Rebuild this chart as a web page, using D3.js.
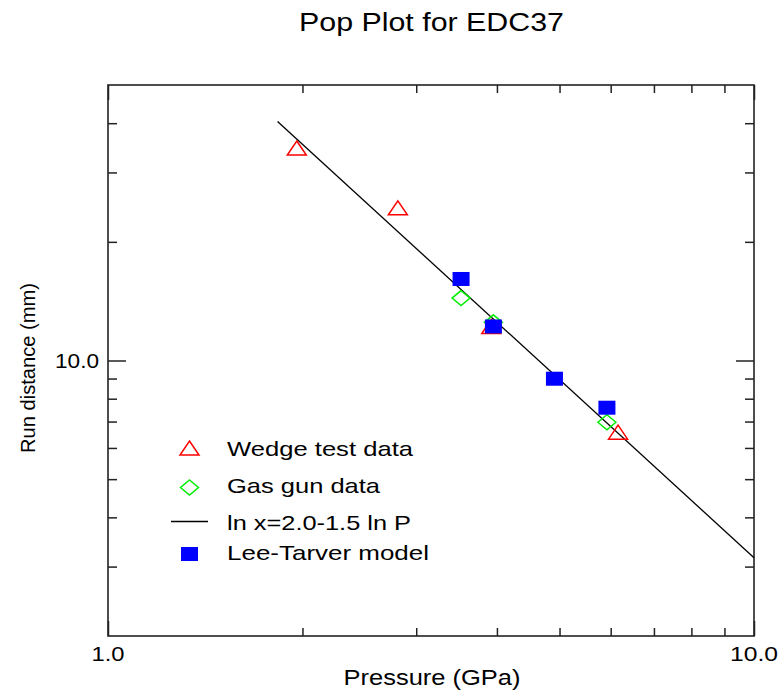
<!DOCTYPE html>
<html>
<head>
<meta charset="utf-8">
<script src="https://cdn.jsdelivr.net/npm/d3@7"></script>
<style>
  html, body { margin: 0; padding: 0; background: #fff; }
  svg { display: block; }
  text { font-family: "Liberation Sans", Arial, Helvetica, sans-serif; fill: #000; }
</style>
</head>
<body>
<svg id="chart" width="784" height="693"></svg>
<script>
// Pop plot: run distance to detonation versus input pressure (log-log)
const wedgeP   = [1.96, 2.81, 3.92, 6.16];
const wedgeRun = [34.6, 24.4, 12.2, 6.58];

const gasP   = [3.52, 3.95, 5.92];
const gasRun = [14.4, 12.5, 6.97];

const ltP   = [3.52, 3.95, 4.91, 5.92];
const ltRun = [16.1, 12.2, 8.99, 7.59];

// straight fit line in log-log space (end points)
const fitP   = [1.83, 10.0];
const fitRun = [40.4, 3.16];

const xDomain = [1, 10];
const yDomain = [2, 50];
const xMajor = [1, 10];
const xMinor = [2, 3, 4, 5, 6, 7, 8, 9];
const yMajor = [10];
const yMinor = [3, 4, 5, 6, 7, 8, 9, 20, 30, 40];
const xTickLabels = ["1.0", "10.0"];
const yTickLabels = ["10.0"];

const legendItems = ["Wedge test data", "Gas gun data", "ln x=2.0-1.5 ln P", "Lee-Tarver model"];

const svg = d3.select("#chart");
const L = 108, R = 754, T = 85, B = 636;

const x = d3.scaleLog().domain(xDomain).range([L, R]);
const y = d3.scaleLog().domain(yDomain).range([B, T]);

const frameColor = "#222";

// axes on all four sides: minor and major ticks drawn with different lengths
function addAxis(gen, tr, vals, size) {
  const g = svg.append("g").attr("transform", tr)
    .call(gen.tickValues(vals).tickSize(size).tickFormat(""));
  g.select(".domain").remove();
  g.selectAll(".tick line").attr("stroke", frameColor).attr("stroke-width", 1.5);
  return g;
}
addAxis(d3.axisTop(x), `translate(0,${B})`, xMinor, 8);
addAxis(d3.axisTop(x), `translate(0,${B})`, xMajor, 15);
addAxis(d3.axisBottom(x), `translate(0,${T})`, xMinor, 8);
addAxis(d3.axisBottom(x), `translate(0,${T})`, xMajor, 15);
addAxis(d3.axisRight(y), `translate(${L},0)`, yMinor, 9);
addAxis(d3.axisRight(y), `translate(${L},0)`, yMajor, 18);
addAxis(d3.axisLeft(y), `translate(${R},0)`, yMinor, 9);
addAxis(d3.axisLeft(y), `translate(${R},0)`, yMajor, 18);

// plot frame
svg.append("rect")
  .attr("x", L).attr("y", T).attr("width", R - L).attr("height", B - T)
  .attr("fill", "none").attr("stroke", frameColor).attr("stroke-width", 1.6);

// tick labels
svg.selectAll(".xlab").data(xMajor).enter().append("text")
  .attr("class", "xlab")
  .attr("x", d => x(d)).attr("y", 661)
  .attr("text-anchor", "middle")
  .attr("font-size", 21)
  .attr("textLength", (d, i) => xTickLabels[i].length > 3 ? 48 : 33)
  .attr("lengthAdjust", "spacingAndGlyphs")
  .text((d, i) => xTickLabels[i]);

svg.selectAll(".ylab").data(yMajor).enter().append("text")
  .attr("class", "ylab")
  .attr("x", 99).attr("y", d => y(d) + 7.5)
  .attr("text-anchor", "end")
  .attr("font-size", 21)
  .attr("textLength", 44)
  .attr("lengthAdjust", "spacingAndGlyphs")
  .text((d, i) => yTickLabels[i]);

// titles
svg.append("text")
  .attr("x", 431.5).attr("y", 31)
  .attr("text-anchor", "middle").attr("font-size", 26)
  .attr("textLength", 265).attr("lengthAdjust", "spacingAndGlyphs")
  .text("Pop Plot for EDC37");

svg.append("text")
  .attr("x", 432).attr("y", 685)
  .attr("text-anchor", "middle").attr("font-size", 22)
  .attr("textLength", 177).attr("lengthAdjust", "spacingAndGlyphs")
  .text("Pressure (GPa)");

svg.append("text")
  .attr("transform", "translate(35,368) rotate(-90)")
  .attr("text-anchor", "middle").attr("font-size", 21)
  .attr("textLength", 170).attr("lengthAdjust", "spacingAndGlyphs")
  .text("Run distance (mm)");

// marker shapes
const triPath = (cx, cy) => `M${cx},${cy - 7}L${cx + 9.5},${cy + 7}L${cx - 9.5},${cy + 7}Z`;
const diaPath = (cx, cy) => `M${cx},${cy - 7.5}L${cx + 9},${cy}L${cx},${cy + 7.5}L${cx - 9},${cy}Z`;

// fit line
const line = d3.line().x(d => x(d[0])).y(d => y(d[1]));
svg.append("path")
  .datum(fitP.map((p, i) => [p, fitRun[i]]))
  .attr("d", line)
  .attr("fill", "none").attr("stroke", "#000").attr("stroke-width", 1.3);

// wedge test data
svg.selectAll(".wedge").data(wedgeP.map((p, i) => [p, wedgeRun[i]])).enter().append("path")
  .attr("class", "wedge")
  .attr("d", d => triPath(x(d[0]), y(d[1])))
  .attr("fill", "none").attr("stroke", "#ff0000").attr("stroke-width", 1.5);

// gas gun data
svg.selectAll(".gas").data(gasP.map((p, i) => [p, gasRun[i]])).enter().append("path")
  .attr("class", "gas")
  .attr("d", d => diaPath(x(d[0]), y(d[1])))
  .attr("fill", "none").attr("stroke", "#00ee00").attr("stroke-width", 1.5);

// Lee-Tarver model
svg.selectAll(".lt").data(ltP.map((p, i) => [p, ltRun[i]])).enter().append("rect")
  .attr("class", "lt")
  .attr("x", d => x(d[0]) - 8.5).attr("y", d => y(d[1]) - 7)
  .attr("width", 17).attr("height", 14)
  .attr("fill", "#0000ff");

// legend
const legX = 189.5, textX = 227;
const legY = [448, 487.5, 521.5, 554];
const legBase = [456, 492.5, 530, 560];
const legLen = [186, 153, 184, 202];

svg.append("path").attr("d", triPath(legX, legY[0]))
  .attr("fill", "none").attr("stroke", "#ff0000").attr("stroke-width", 1.5);
svg.append("path").attr("d", diaPath(legX, legY[1]))
  .attr("fill", "none").attr("stroke", "#00ee00").attr("stroke-width", 1.5);
svg.append("line").attr("x1", 171).attr("x2", 208)
  .attr("y1", legY[2]).attr("y2", legY[2])
  .attr("stroke", "#000").attr("stroke-width", 1.3);
svg.append("rect").attr("x", legX - 8.5).attr("y", legY[3] - 7)
  .attr("width", 17).attr("height", 14).attr("fill", "#0000ff");

svg.selectAll(".leg").data(legendItems).enter().append("text")
  .attr("class", "leg")
  .attr("x", textX).attr("y", (d, i) => legBase[i])
  .attr("font-size", 21)
  .attr("textLength", (d, i) => legLen[i])
  .attr("lengthAdjust", "spacingAndGlyphs")
  .text(d => d);
</script>
</body>
</html>
